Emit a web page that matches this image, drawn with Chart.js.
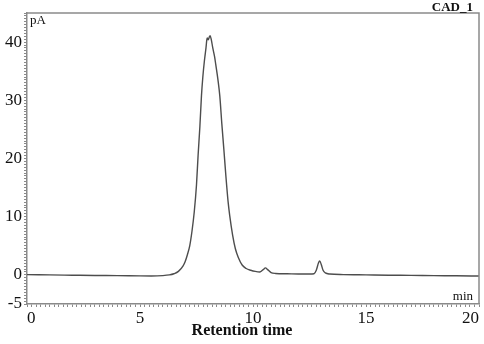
<!DOCTYPE html>
<html><head><meta charset="utf-8">
<script src="https://cdn.jsdelivr.net/npm/chart.js@4/dist/chart.umd.min.js"></script>
<style>html,body{margin:0;padding:0;background:#fff;}#wrap{width:484px;height:344px;}</style>
</head><body><div id="wrap"><canvas id="c" width="484" height="344"></canvas></div>
<script>
const retentionTimes = [0,1,2,3,4,5,5.5,6.0,6.3,6.5,6.7,6.9,7.0,7.1,7.2,7.3,7.4,7.5,7.57,7.65,7.72,7.78,7.85,7.92,7.97,8.02,8.06,8.1,8.15,8.22,8.3,8.35,8.45,8.53,8.62,8.71,8.8,8.9,8.97,9.1,9.22,9.35,9.52,9.7,9.9,10.1,10.3,10.45,10.55,10.65,10.8,11.0,11.5,12.0,12.5,12.7,12.8,12.9,12.95,13.02,13.1,13.2,13.4,14,15,16,17,18,19,20];
const signalValues   = [0.05,0.0,-0.05,-0.1,-0.12,-0.17,-0.18,-0.12,0.0,0.2,0.6,1.5,2.3,3.5,5.0,7.5,10.8,15.5,20.5,25.5,30.8,34.0,36.8,39.0,40.7,40.4,40.8,41.1,40.5,39.0,37.5,36.2,33.5,30.8,26.0,21.6,17.0,12.5,10.2,6.8,4.5,3.0,1.7,1.1,0.8,0.6,0.5,0.9,1.2,0.9,0.4,0.25,0.2,0.15,0.15,0.2,0.8,2.1,2.4,1.8,0.8,0.35,0.15,0.05,0.0,-0.05,-0.08,-0.12,-0.15,-0.2];
const xTickLabels = [0,5,10,15,20];
const yTickLabels = [-5,0,10,20,30,40];
const xMinorStep = 0.2;
const yMinorStep = 0.5;

const AXIS = '#8a8a8a';
const SERIF = '"Liberation Serif", "Times New Roman", serif';

function makeTicks(min, max, step) {
  const out = [];
  const n = Math.round((max - min) / step);
  for (let i = 0; i <= n; i++) out.push({ value: Math.round((min + i * step) * 1000) / 1000 });
  return out;
}
function isLabel(v, list) { return list.some(l => Math.abs(l - v) < 1e-6); }

const framePlugin = {
  id: 'frame',
  afterDraw(chart) {
    const ctx = chart.ctx, a = chart.chartArea;
    ctx.save();
    ctx.strokeStyle = AXIS;
    ctx.lineWidth = 1.5;
    ctx.beginPath();
    ctx.moveTo(a.left, a.top);
    ctx.lineTo(a.right, a.top);
    ctx.lineTo(a.right, a.bottom);
    ctx.stroke();
    ctx.fillStyle = '#111';
    ctx.font = '13px ' + SERIF;
    ctx.textBaseline = 'middle';
    ctx.textAlign = 'left';
    ctx.fillText('pA', a.left + 3, a.top + 8);
    ctx.textAlign = 'right';
    ctx.fillText('min', a.right - 6, a.bottom - 7);
    ctx.font = 'bold 13px ' + SERIF;
    ctx.textBaseline = 'alphabetic';
    ctx.fillText('CAD_1', a.right - 6, a.top - 2);
    ctx.font = 'bold 16px ' + SERIF;
    ctx.textAlign = 'center';
    ctx.textBaseline = 'middle';
    ctx.fillText('Retention time', 242, 331);
    ctx.restore();
  }
};

new Chart(document.getElementById('c'), {
  type: 'line',
  data: {
    datasets: [{
      data: retentionTimes.map((t, i) => ({ x: t, y: signalValues[i] })),
      borderColor: '#4d4d4d',
      borderWidth: 1.4,
      pointRadius: 0,
      cubicInterpolationMode: 'monotone',
      fill: false
    }]
  },
  options: {
    responsive: false,
    animation: false,
    devicePixelRatio: 1,
    layout: { padding: { left: 0, right: 5, top: 13, bottom: 0 } },
    plugins: { legend: { display: false }, tooltip: { enabled: false }, title: { display: false } },
    scales: {
      x: {
        type: 'linear', position: 'bottom', min: 0, max: 20,
        afterBuildTicks: s => { s.ticks = makeTicks(0, 20, xMinorStep); },
        afterFit: s => { s.height = 40; },
        ticks: {
          autoSkip: false, maxRotation: 0, minRotation: 0, align: 'inner', padding: 1,
          color: '#111', font: { family: SERIF, size: 17 },
          callback: v => isLabel(v, xTickLabels) ? String(Math.round(v)) : ''
        },
        grid: { drawOnChartArea: false, drawTicks: true, tickLength: 3, tickColor: AXIS, tickWidth: 1 },
        border: { color: AXIS, width: 1.5 }
      },
      y: {
        type: 'linear', position: 'left', min: -5, max: 45,
        afterBuildTicks: s => { s.ticks = makeTicks(-5, 45, yMinorStep); },
        afterFit: s => { s.width = 27; },
        ticks: {
          autoSkip: false, padding: 2,
          color: '#111', font: { family: SERIF, size: 17 },
          callback: v => isLabel(v, yTickLabels) ? String(Math.round(v)) : ''
        },
        grid: { drawOnChartArea: false, drawTicks: true, tickLength: 3, tickColor: AXIS, tickWidth: 1 },
        border: { color: AXIS, width: 1.5 }
      }
    }
  },
  plugins: [framePlugin]
});
</script>
</body></html>
